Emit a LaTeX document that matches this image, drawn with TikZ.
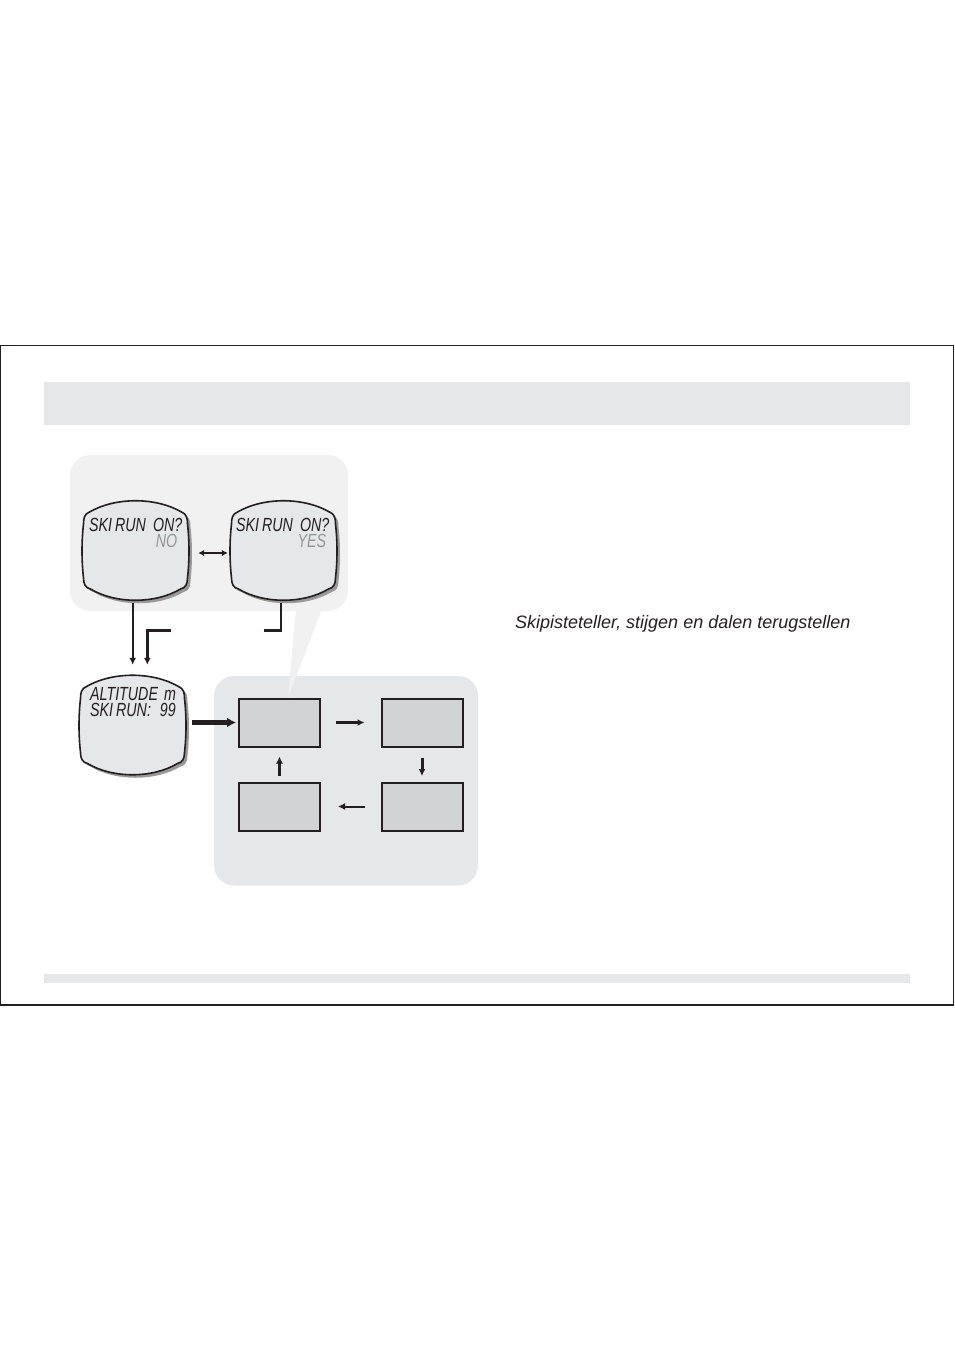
\documentclass[tikz,border=0pt]{standalone}
\usepackage{fontspec}
\setmainfont{Liberation Sans}
\newfontfamily\lcdfont[FakeStretch=0.75]{Liberation Sans}
\usetikzlibrary{arrows.meta}
\usetikzlibrary{calc}

\definecolor{panelgray}{HTML}{F1F1F2}
\definecolor{bargray}{HTML}{E6E7E8}
\definecolor{boxgray}{HTML}{D1D3D4}
\definecolor{textgray}{HTML}{939598}
\definecolor{inkblack}{HTML}{231F20}

\begin{document}
\begin{tikzpicture}[x=1pt, y=-1pt, >={Latex[length=7pt,width=7pt]},
watchface/.style={fill=bargray, draw=inkblack, line width=1.6},
watchshadow/.style={fill=black!40},
lcd/.style={font=\lcdfont\itshape\fontsize{19}{16.5}\selectfont, inner sep=0, text=inkblack, text width=100pt, align=left},
stepbox/.style={fill=boxgray, draw=inkblack, line width=2, minimum width=81, minimum height=48, inner sep=0},
arr/.style={->, line width=3, draw=inkblack},
downarr/.style={->, line width=2.4, draw=inkblack},
thinarr/.style={->, line width=2, draw=inkblack},
fatarr/.style={-{Latex[length=9pt,width=10pt]}, line width=4.5, draw=inkblack},
dblarr/.style={{Latex[length=6pt,width=6.5pt]}-{Latex[length=6pt,width=6.5pt]}, line width=2.2, draw=inkblack},
watch/.pic={
  \foreach \dx/\look in {3/watchshadow, 0/watchface}{
    \path[\look, shift={(\dx,\dx)}] (-46,-38) .. controls (-20,-53) and (20,-53) .. (46,-38)
      .. controls (51,-36) and (52,-32) .. (52,-26)
      .. controls (54,-8) and (54,10) .. (52,28)
      .. controls (52,34) and (50,38) .. (45,39)
      .. controls (20,54) and (-20,54) .. (-45,39)
      .. controls (-50,38) and (-52,34) .. (-52,28)
      .. controls (-54,10) and (-54,-8) .. (-52,-26)
      .. controls (-52,-32) and (-51,-36) .. (-46,-38) -- cycle;
  }
  \node[inner sep=0, minimum width=105, minimum height=100] (-box) at (0,0) {};
}]

\useasboundingbox (0,0) rectangle (954,1351);

%%%%%% PAGE %%%%%%%%%%

\fill[bargray] (44,382) rectangle (910,425);
\fill[bargray] (44,974) rectangle (910,982.5);
\draw[inkblack, line width=1.3] (0.7,345.5) rectangle (953.3,1005);

%%%%%% PANELS %%%%%%%%%%

\fill[panelgray, rounded corners=20pt] (70,455) rectangle (348,611);
\fill[bargray, rounded corners=20pt] (214,676) rectangle (478,885.5);
\fill[panelgray] (296,609) -- (322,609) -- (288,698) -- cycle;

%%%%%% DISPLAYS %%%%%%%%%%

\pic (no) at (135.5,550) {watch};
\pic (yes) at (283.5,550) {watch};
\pic (alt) at (132.5,724.5) {watch};

\node[lcd, anchor=base west] (no-text) at (89,531)
  {\mbox{SKI\hspace{3pt}RUN\hspace{7pt}ON?}\\ \hspace*{\fill}\textcolor{textgray}{NO}\hspace*{12pt}};
\node[lcd, anchor=base west] (yes-text) at (236,531)
  {\mbox{SKI\hspace{3pt}RUN\hspace{7pt}ON?}\\ \hspace*{\fill}\textcolor{textgray}{YES}\hspace*{10pt}};
\node[lcd, anchor=base west] (alt-text) at (90,700)
  {\mbox{ALTITUDE\hspace{6pt}m}\\ \mbox{SKI\hspace{3pt}RUN:\hspace{9pt}99}};

%%%%%% STEPS %%%%%%%%%%

\node[stepbox] (s1) at (279.5,722.5) {};
\node[stepbox] (s2) at (422,722.5) {};
\node[stepbox] (s3) at (422,806.5) {};
\node[stepbox] (s4) at (279.5,806.5) {};

%%%%%% ARROWS %%%%%%%%%%

\coordinate (back) at (171,630.5);
\coordinate (yesend) at (264,630.5);

\draw[dblarr, shorten <=10pt, shorten >=3pt] ([yshift=-3pt]no-box.east) -- ([yshift=-3pt]yes-box.west);
\draw[downarr, shorten <=3pt, shorten >=9.5pt] ([xshift=-2.8pt]no-box.south) -- ([xshift=-2.8pt]no-box.south |- alt-box.north);
\draw[downarr, shorten >=9.5pt] (back) -| ([xshift=14.8pt]alt-box.north);
\draw[inkblack, line width=2.4, shorten <=3pt] ([xshift=-2.5pt]yes-box.south) |- (yesend);
\draw[fatarr, shorten <=6.7pt, shorten >=2pt] (alt-box.east |- s1.west) -- (s1.west);

\draw[arr, shorten <=15pt, shorten >=16pt] (s1) -- (s2);
\draw[arr, shorten <=10pt, shorten >=5.5pt] (s2) -- (s3);
\draw[thinarr, shorten <=16pt, shorten >=17pt] (s3) -- (s4);
\draw[arr, line width=3.2, shorten <=5.5pt, shorten >=9pt] (s4) -- (s1);

%%%%%% TEXT %%%%%%%%%%

\node[anchor=base west, inner sep=0, text=inkblack, font=\itshape\fontsize{18}{18}\selectfont] (caption) at (515,628.5) {Skipisteteller, stijgen en dalen terugstellen};

\end{tikzpicture}
\end{document}
